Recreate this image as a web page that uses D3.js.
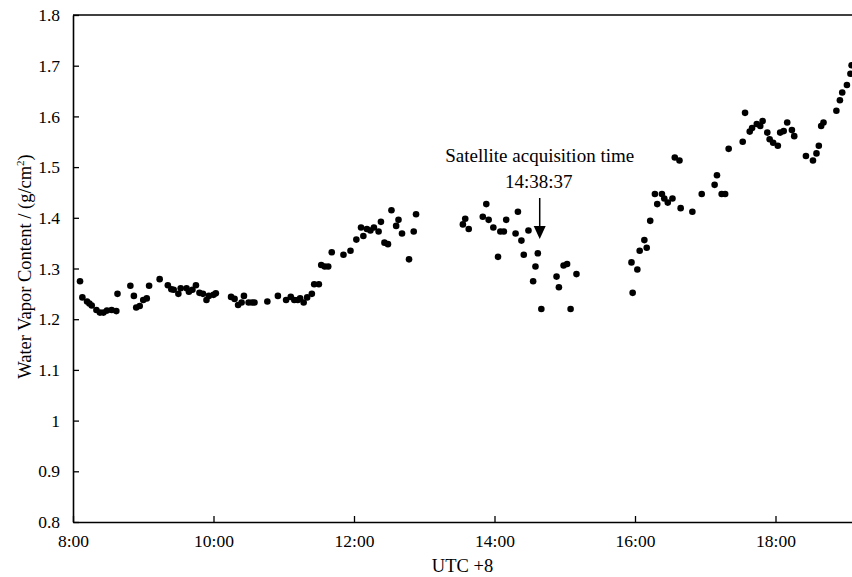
<!DOCTYPE html>
<html>
<head>
<meta charset="utf-8">
<script src="https://cdn.jsdelivr.net/npm/d3@7/dist/d3.min.js"></script>
<style>
  html, body { margin: 0; padding: 0; background: #fff; }
  svg { display: block; }
  text { font-family: "Liberation Serif", "DejaVu Serif", serif; fill: #000; }
</style>
</head>
<body>
<svg id="chart" width="852" height="577"></svg>
<script>
// ---- Data ----
const times = ["8:06","8:08","8:12","8:14","8:16","8:20","8:23","8:26","8:29","8:33",
  "8:37","8:38","8:49","8:52","8:54","8:57","9:00","9:03","9:05","9:14",
  "9:21","9:24","9:26","9:30","9:32","9:37","9:39","9:42","9:45","9:48",
  "9:51","9:54","9:56","10:00","10:02","10:15","10:18","10:21","10:24","10:26",
  "10:30","10:33","10:35","10:46","10:55","11:02","11:06","11:09","11:12","11:14",
  "11:17","11:20","11:24","11:26","11:30","11:32","11:35","11:38","11:41","11:51",
  "11:57","12:02","12:06","12:08","12:11","12:14","12:17","12:21","12:23","12:26",
  "12:29","12:32","12:36","12:38","12:41","12:47","12:51","12:53","13:33","13:35",
  "13:38","13:50","13:53","13:55","13:59","14:03","14:05","14:08","14:10","14:18",
  "14:20","14:23","14:25","14:29","14:33","14:35","14:37","14:40","14:53","14:55",
  "14:59","15:02","15:05","15:10","15:57","15:58","16:02","16:04","16:08","16:10",
  "16:13","16:17","16:19","16:23","16:25","16:28","16:32","16:34","16:38","16:39",
  "16:49","16:57","17:08","17:10","17:14","17:17","17:20","17:32","17:34","17:38",
  "17:40","17:44","17:47","17:49","17:53","17:55","17:58","18:02","18:04","18:07",
  "18:10","18:14","18:16","18:26","18:32","18:35","18:37","18:39","18:41","18:52",
  "18:55","18:57","19:01","19:04","19:05"];
const vapor = [1.275,1.243,1.235,1.231,1.227,1.218,1.213,1.213,1.217,1.218,
  1.216,1.250,1.266,1.246,1.223,1.226,1.238,1.241,1.266,1.279,
  1.267,1.259,1.258,1.250,1.261,1.261,1.254,1.258,1.267,1.252,
  1.250,1.238,1.246,1.248,1.251,1.244,1.240,1.228,1.233,1.246,
  1.233,1.233,1.233,1.235,1.246,1.238,1.244,1.238,1.238,1.241,
  1.233,1.243,1.250,1.269,1.269,1.307,1.304,1.304,1.332,1.327,
  1.335,1.357,1.381,1.364,1.378,1.375,1.381,1.373,1.392,1.351,
  1.348,1.415,1.384,1.396,1.369,1.318,1.373,1.407,1.387,1.398,
  1.378,1.402,1.427,1.396,1.381,1.323,1.373,1.373,1.396,1.369,
  1.412,1.355,1.327,1.375,1.275,1.304,1.330,1.220,1.284,1.263,
  1.306,1.309,1.220,1.289,1.312,1.252,1.298,1.335,1.356,1.341,
  1.394,1.447,1.427,1.447,1.438,1.430,1.438,1.519,1.513,1.419,
  1.412,1.447,1.465,1.484,1.447,1.447,1.536,1.550,1.607,1.570,
  1.577,1.585,1.581,1.591,1.568,1.555,1.548,1.542,1.568,1.571,
  1.588,1.573,1.561,1.522,1.513,1.527,1.542,1.581,1.588,1.611,
  1.632,1.647,1.662,1.684,1.701];
const xTickLabels = ["8:00","10:00","12:00","14:00","16:00","18:00"];
const yTickLabels = ["0.8","0.9","1","1.1","1.2","1.3","1.4","1.5","1.6","1.7","1.8"];
const xDomain = ["8:00","19:10"];
const annotationTime = "14:38:37";
const annotationTitle = "Satellite acquisition time";

// ---- Helpers ----
const toHours = s => { const p = s.split(":").map(Number); return p[0] + (p[1]||0)/60 + (p[2]||0)/3600; };
const data = times.map((t,i) => ({ t: toHours(t), v: vapor[i] }));

const svg = d3.select("#chart");
const mLeft = 73, mBottom = 522, mTop = 15;
const hourPx = 70.25;
const x = d3.scaleLinear()
  .domain(xDomain.map(toHours))
  .range([mLeft, mLeft + hourPx * (toHours(xDomain[1]) - toHours(xDomain[0]))]);
const y = d3.scaleLinear().domain([0.8, 1.8]).range([mBottom, mTop]);

// Axes
const xAxis = d3.axisBottom(x)
  .tickValues(xTickLabels.map(toHours))
  .tickFormat((d,i) => xTickLabels[i])
  .tickSizeInner(-6).tickSizeOuter(0).tickPadding(13);
const gx = svg.append("g").attr("transform", `translate(0,${mBottom})`).call(xAxis);
gx.selectAll("text").style("font-size","17.5px");

const yAxis = d3.axisLeft(y)
  .tickValues(yTickLabels.map(Number))
  .tickFormat((d,i) => yTickLabels[i])
  .tickSizeInner(-6).tickSizeOuter(0).tickPadding(13);
const gy = svg.append("g").attr("transform", `translate(${mLeft},0)`).call(yAxis);
gy.selectAll("text").style("font-size","17.5px");

svg.selectAll(".domain").attr("stroke","#000").attr("stroke-width",1.6);
svg.selectAll(".tick line").attr("stroke","#000").attr("stroke-width",1.3);

// Top frame
svg.append("line")
  .attr("x1", x.range()[0]).attr("x2", x.range()[1])
  .attr("y1", y(1.8)).attr("y2", y(1.8))
  .attr("stroke","#000").attr("stroke-width",1.6);

// Points
svg.append("g").selectAll("circle").data(data).join("circle")
  .attr("cx", d => x(d.t)).attr("cy", d => y(d.v))
  .attr("r", 3.3).attr("fill", "#000");

// Axis titles
svg.append("text")
  .attr("x", (mLeft + 852) / 2).attr("y", 572)
  .attr("text-anchor","middle").style("font-size","18.5px")
  .text("UTC +8");

const yt = svg.append("text")
  .attr("transform", `translate(31,${y(1.3) - 2}) rotate(-90)`)
  .attr("text-anchor","middle").style("font-size","18.5px");
yt.append("tspan").text("Water Vapor Content / (g/cm");
yt.append("tspan").attr("dy", -7).style("font-size","11px").text("2");
yt.append("tspan").attr("dy", 7).text(")");

// Annotation
const ax = x(toHours(annotationTime));
svg.append("text").attr("x", ax).attr("y", 162)
  .attr("text-anchor","middle").style("font-size","19px").text(annotationTitle);
svg.append("text").attr("x", ax - 1).attr("y", 188)
  .attr("text-anchor","middle").style("font-size","19px").text(annotationTime);
svg.append("line")
  .attr("x1", ax).attr("x2", ax).attr("y1", 198).attr("y2", 228)
  .attr("stroke","#000").attr("stroke-width",1.5);
svg.append("path")
  .attr("d", `M${ax-6},${226} L${ax+6},${226} L${ax},${239} Z`)
  .attr("fill","#000");
</script>
</body>
</html>
